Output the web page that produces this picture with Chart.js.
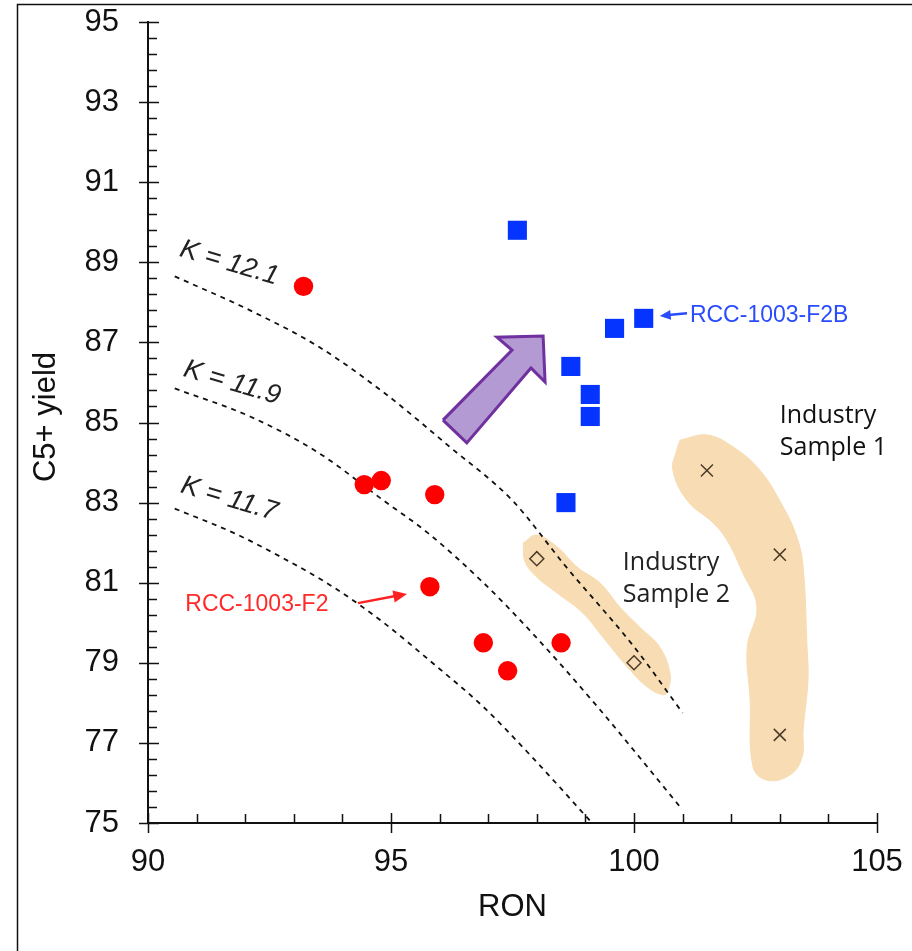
<!DOCTYPE html>
<html>
<head>
<meta charset="utf-8">
<script src="https://cdn.jsdelivr.net/npm/chart.js@4.4.1/dist/chart.umd.min.js"></script>
<style>
    html, body { margin: 0; padding: 0; background: #fff; }
</style>
</head>
<body>
<canvas id="ronChart" width="912" height="951"></canvas>
<script>
// axis ticks
const xTickLabels = [90, 95, 100, 105];
const yTickLabels = [75, 77, 79, 81, 83, 85, 87, 89, 91, 93, 95];

// RCC-1003-F2 series (red circles)
const redRon = [93.2, 94.45, 94.8, 95.9, 95.8, 96.9, 97.4, 98.5];
const redYield = [88.4, 83.45, 83.55, 83.2, 80.9, 79.5, 78.8, 79.5];

// RCC-1003-F2B series (blue squares)
const blueRon = [97.6, 98.7, 99.6, 100.2, 99.1, 99.1, 98.6];
const blueYield = [89.8, 86.4, 87.35, 87.6, 85.7, 85.15, 83.0];

// Industry samples
const sample1Ron = [101.5, 103.0, 103.0];
const sample1Yield = [83.8, 81.7, 77.2];
const sample2Ron = [98.0, 100.0];
const sample2Yield = [81.6, 79.0];

// K-factor iso lines
const k121Ron = [90.55, 92.1, 93.5, 94.85, 96.2, 97.5, 98.6, 100.0, 101.0];
const k121Yield = [88.65, 87.8, 86.9, 85.75, 84.4, 83.05, 81.4, 79.4, 77.75];
const k119Ron = [90.55, 92.1, 93.5, 94.85, 95.75, 96.9, 97.9, 99.25, 100.95];
const k119Yield = [85.85, 85.15, 84.25, 83.05, 82.25, 81.0, 79.75, 77.9, 75.4];
const k117Ron = [90.55, 91.75, 92.8, 93.8, 94.85, 95.85, 96.9, 97.9, 99.1];
const k117Yield = [82.85, 82.25, 81.6, 80.9, 80.0, 79.0, 77.9, 76.65, 75.05];

// shaded regions around the industry samples
const blob1Ron = [100.95, 101.5, 102.04, 102.59, 103.07, 103.35, 103.48, 103.56, 103.58, 103.48, 103.46, 103.21, 102.74, 102.45, 102.39, 102.33, 102.53, 102.24, 101.91, 101.63, 101.09, 100.8, 100.88, 100.95];
const blob1Yield = [84.56, 84.69, 84.39, 83.81, 82.89, 82.14, 81.39, 79.39, 78.57, 77.32, 76.65, 76.2, 76.07, 76.4, 78.07, 79.39, 80.39, 81.24, 82.07, 82.49, 83.06, 83.81, 84.31, 84.56];
const blob2Ron = [97.72, 98.0, 98.42, 98.83, 99.3, 99.71, 100.12, 100.53, 100.74, 100.7, 100.6, 100.27, 99.86, 99.36, 98.95, 98.42, 98.0, 97.76, 97.72];
const blob2Yield = [81.99, 82.19, 81.89, 81.39, 80.99, 80.39, 79.89, 79.39, 78.74, 78.32, 78.2, 78.4, 78.9, 79.64, 80.24, 80.74, 81.14, 81.52, 81.99];

// big purple arrow outline
const arrowRon = [96.07, 97.49, 97.18, 98.13, 98.17, 97.88, 96.56, 96.07];
const arrowYield = [85.06, 86.81, 87.13, 87.16, 86.01, 86.36, 84.49, 85.06];

const pts = (xs, ys) => xs.map((x, i) => ({ x: x, y: ys[i] }));

const kLabels = [
    { text: 'K = 12.1', x: 91.67, y: 88.98 },
    { text: 'K = 11.9', x: 91.73, y: 85.99 },
    { text: 'K = 11.7', x: 91.67, y: 83.09 }
];

const notes = [
    { lines: ['Industry', 'Sample 1'], x: 103.0, y: 85.16, color: '#111', font: '25px "Open Sans"' },
    { lines: ['Industry', 'Sample 2'], x: 99.77, y: 81.49, color: '#222', font: '25px "Open Sans"' }
];

function drawArrow(ctx, x1, y1, x2, y2, color, head) {
    const ang = Math.atan2(y2 - y1, x2 - x1);
    ctx.strokeStyle = color;
    ctx.fillStyle = color;
    ctx.lineWidth = 2.5;
    ctx.beginPath();
    ctx.moveTo(x1, y1);
    ctx.lineTo(x2 - head * 0.7 * Math.cos(ang), y2 - head * 0.7 * Math.sin(ang));
    ctx.stroke();
    ctx.beginPath();
    ctx.moveTo(x2, y2);
    ctx.lineTo(x2 - head * Math.cos(ang - 0.42), y2 - head * Math.sin(ang - 0.42));
    ctx.lineTo(x2 - head * Math.cos(ang + 0.42), y2 - head * Math.sin(ang + 0.42));
    ctx.closePath();
    ctx.fill();
}

const overlay = {
    id: 'overlay',
    beforeDraw(chart) {
        const ctx = chart.ctx;
        ctx.save();
        ctx.fillStyle = '#fff';
        ctx.fillRect(0, 0, chart.width, chart.height);
        // outer frame
        ctx.strokeStyle = '#111';
        ctx.lineWidth = 1.5;
        ctx.beginPath();
        ctx.moveTo(17.5, chart.height);
        ctx.lineTo(17.5, 4.5);
        ctx.lineTo(chart.width, 4.5);
        ctx.stroke();
        ctx.restore();
    },
    afterDatasetsDraw(chart) {
        const ctx = chart.ctx;
        const xs = chart.scales.x, ys = chart.scales.y;
        const ax = xs.left, ay = ys.bottom;
        ctx.save();

        // tick marks: majors cross the axis, minors point inward
        ctx.strokeStyle = '#111';
        ctx.lineWidth = 1.5;
        ctx.beginPath();
        for (let v = xTickLabels[0]; v <= xTickLabels[xTickLabels.length - 1] + 0.001; v += 1) {
            const px = Math.round(xs.getPixelForValue(v)) + 0.5;
            if (xTickLabels.includes(Math.round(v))) {
                ctx.moveTo(px, ay - 10); ctx.lineTo(px, ay + 10);
            } else {
                ctx.moveTo(px, ay - 9); ctx.lineTo(px, ay);
            }
        }
        const yStep = 0.4;
        for (let k = 0; k <= 50; k++) {
            const v = yTickLabels[0] + k * yStep;
            const py = Math.round(ys.getPixelForValue(v)) + 0.5;
            if (k % 5 === 0) {
                ctx.moveTo(ax - 9, py); ctx.lineTo(ax + 11, py);
            } else {
                ctx.moveTo(ax, py); ctx.lineTo(ax + 9, py);
            }
        }
        ctx.stroke();

        // axis titles
        ctx.fillStyle = '#111';
        ctx.font = '31px "Liberation Sans", Arial, sans-serif';
        ctx.textAlign = 'center';
        ctx.textBaseline = 'middle';
        ctx.fillText('RON', (xs.left + xs.right) / 2, 907);
        ctx.save();
        ctx.translate(46, 417);
        ctx.rotate(-Math.PI / 2);
        ctx.fillText('C5+ yield', 0, 0);
        ctx.restore();

        // K labels
        ctx.font = 'italic 27px "Liberation Sans", Arial, sans-serif';
        ctx.fillStyle = '#222';
        kLabels.forEach(l => {
            ctx.save();
            ctx.translate(xs.getPixelForValue(l.x), ys.getPixelForValue(l.y));
            ctx.rotate(0.29);
            ctx.fillText(l.text, 0, 0);
            ctx.restore();
        });

        // industry sample labels
        ctx.textAlign = 'left';
        notes.forEach(n => {
            ctx.font = n.font;
            ctx.fillStyle = n.color;
            const px = xs.getPixelForValue(n.x);
            const py = ys.getPixelForValue(n.y);
            n.lines.forEach((t, i) => ctx.fillText(t, px, py + i * 32));
        });

        // callouts
        ctx.font = '23px "Liberation Sans", Arial, sans-serif';
        ctx.fillStyle = '#ff2a2a';
        ctx.textAlign = 'center';
        ctx.fillText('RCC-1003-F2', xs.getPixelForValue(92.24), ys.getPixelForValue(80.44));
        drawArrow(ctx, xs.getPixelForValue(94.32), ys.getPixelForValue(80.49),
            xs.getPixelForValue(95.33), ys.getPixelForValue(80.72), '#ff2020', 15);

        ctx.fillStyle = '#2a4cff';
        ctx.textAlign = 'left';
        ctx.fillText('RCC-1003-F2B', xs.getPixelForValue(101.15), ys.getPixelForValue(87.68));
        drawArrow(ctx, xs.getPixelForValue(101.09), ys.getPixelForValue(87.73),
            xs.getPixelForValue(100.53), ys.getPixelForValue(87.66), '#2a4cff', 12);

        ctx.restore();
    }
};

const dashed = (xs, ys) => ({
    data: pts(xs, ys),
    showLine: true,
    pointRadius: 0,
    borderColor: '#111',
    borderWidth: 1.8,
    borderDash: [5, 5],
    cubicInterpolationMode: 'monotone',
    fill: false
});

const ctx = document.getElementById('ronChart').getContext('2d');
const ronChart = new Chart(ctx, {
    type: 'scatter',
    data: {
        datasets: [
            {
                label: 'RCC-1003-F2',
                data: pts(redRon, redYield),
                pointStyle: 'circle',
                pointRadius: 9.7,
                backgroundColor: '#ff0000',
                borderWidth: 0
            },
            {
                label: 'RCC-1003-F2B',
                data: pts(blueRon, blueYield),
                pointStyle: 'rect',
                pointRadius: 13.5,
                backgroundColor: '#0533ff',
                borderWidth: 0
            },
            {
                label: 'Industry Sample 2',
                data: pts(sample2Ron, sample2Yield),
                pointStyle: 'rectRot',
                pointRadius: 7,
                backgroundColor: 'rgba(0,0,0,0)',
                borderColor: '#4a3b2a',
                borderWidth: 1.5
            },
            {
                label: 'Industry Sample 1',
                data: pts(sample1Ron, sample1Yield),
                pointStyle: 'crossRot',
                pointRadius: 8.5,
                borderColor: '#4a3b2a',
                borderWidth: 1.5
            },
            dashed(k121Ron, k121Yield),
            dashed(k119Ron, k119Yield),
            dashed(k117Ron, k117Yield),
            {
                data: pts(arrowRon, arrowYield),
                showLine: true,
                pointRadius: 0,
                tension: 0,
                borderColor: '#7030a0',
                borderWidth: 3,
                borderJoinStyle: 'miter',
                backgroundColor: '#b49ad2',
                fill: 'shape'
            },
            {
                data: pts(blob1Ron, blob1Yield),
                showLine: true,
                pointRadius: 0,
                tension: 0.4,
                borderColor: '#f8dcb3',
                borderWidth: 1,
                backgroundColor: '#f8dcb3',
                fill: 'shape'
            },
            {
                data: pts(blob2Ron, blob2Yield),
                showLine: true,
                pointRadius: 0,
                tension: 0.4,
                borderColor: '#f8dcb3',
                borderWidth: 1,
                backgroundColor: '#f8dcb3',
                fill: 'shape'
            }
        ]
    },
    options: {
        responsive: false,
        animation: false,
        layout: { padding: { left: 0, right: 35, top: 22, bottom: 0 } },
        plugins: {
            legend: { display: false },
            tooltip: { enabled: false }
        },
        scales: {
            x: {
                type: 'linear',
                min: 90,
                max: 105,
                afterBuildTicks: s => { s.ticks = xTickLabels.map(v => ({ value: v })); },
                afterFit: s => { s.height = 128; s.paddingLeft = 0; s.paddingRight = 0; },
                grid: { display: false, drawTicks: false },
                border: { display: true, color: '#111', width: 2 },
                ticks: {
                    color: '#111',
                    padding: 21,
                    font: { family: '"Liberation Sans", Arial, sans-serif', size: 31 }
                }
            },
            y: {
                type: 'linear',
                min: 75,
                max: 95,
                afterBuildTicks: s => { s.ticks = yTickLabels.map(v => ({ value: v })); },
                afterFit: s => { s.width = 148; s.paddingTop = 0; s.paddingBottom = 0; },
                grid: { display: false, drawTicks: false },
                border: { display: true, color: '#111', width: 2 },
                ticks: {
                    color: '#111',
                    padding: 29,
                    font: { family: '"Liberation Sans", Arial, sans-serif', size: 31 }
                }
            }
        }
    },
    plugins: [overlay]
});
</script>
</body>
</html>
